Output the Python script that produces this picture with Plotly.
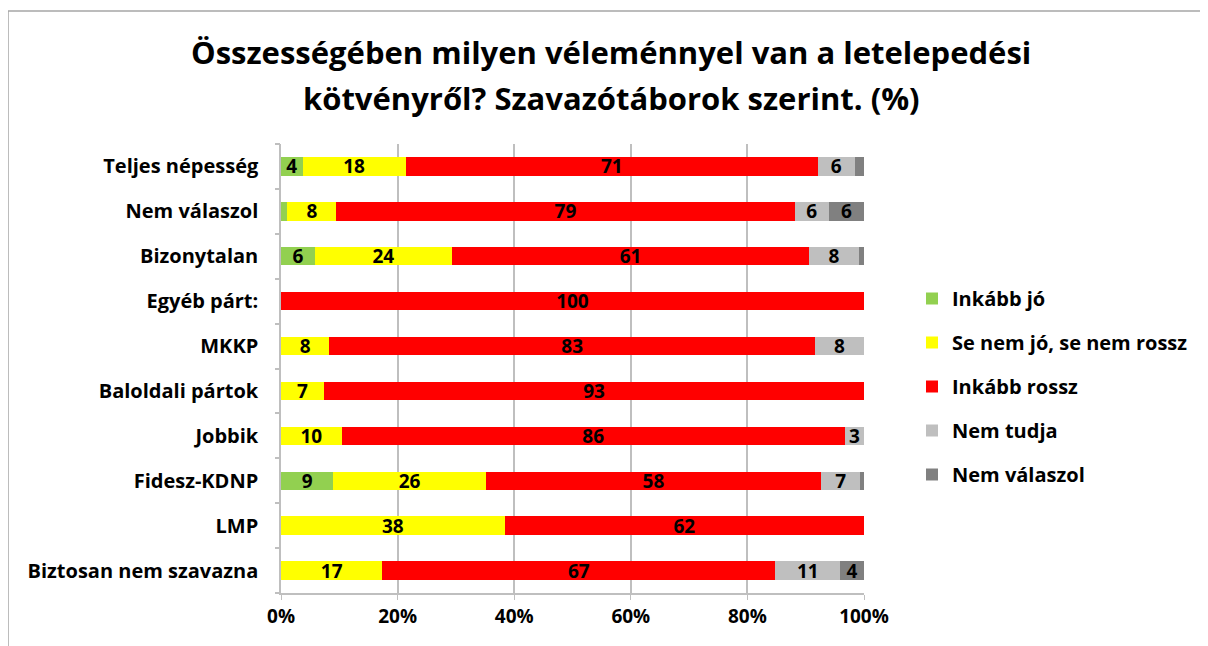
import plotly.graph_objects as go

categories = ["Teljes népesség", "Nem válaszol", "Bizonytalan", "Egyéb párt:", "MKKP",
              "Baloldali pártok", "Jobbik", "Fidesz-KDNP", "LMP", "Biztosan nem szavazna"]

inkabb_jo = [3.7, 1.1, 5.8, 0, 0, 0, 0, 9.0, 0, 0]
se_nem = [17.7, 8.4, 23.5, 0, 8.3, 7.4, 10.4, 26.1, 38.4, 17.4]
inkabb_rossz = [70.7, 78.6, 61.3, 100, 83.3, 92.6, 86.3, 57.6, 61.6, 67.4]
nem_tudja = [6.3, 5.9, 8.5, 0, 8.4, 0, 3.3, 6.6, 0, 11.1]
nem_valaszol = [1.6, 6.0, 0.9, 0, 0, 0, 0, 0.7, 0, 4.1]

series_names = ["Inkább jó", "Se nem jó, se nem rossz", "Inkább rossz", "Nem tudja", "Nem válaszol"]
series_values = [inkabb_jo, se_nem, inkabb_rossz, nem_tudja, nem_valaszol]
colors = ["#92D050", "#FFFF00", "#FF0000", "#BFBFBF", "#808080"]

x_ticks = [0, 20, 40, 60, 80, 100]
x_ticklabels = ["0%", "20%", "40%", "60%", "80%", "100%"]

title_lines = ["Összességében milyen véleménnyel van a letelepedési",
               "kötvényről? Szavazótáborok szerint. (%)"]

FONT = "Open Sans"
# page offset (body margin) of the plot div
OFF = 8
PL, PR, PT, PB = 281, 864, 144, 593  # plot area in page pixels


def px2paper_x(px):
    return (px - PL) / (PR - PL)


def px2paper_y(py):
    return 1 - (py - PT) / (PB - PT)


fig = go.Figure()
for i, (name, vals, col) in enumerate(zip(series_names, series_values, colors)):
    txt = [f"{v:.0f}" if v >= 2.5 else "" for v in vals]
    fig.add_trace(go.Bar(
        y=categories, x=vals, name=name, orientation="h",
        marker=dict(color=col, line=dict(width=0)),
        text=txt, textposition="inside", insidetextanchor="middle",
        textangle=0, constraintext="none",
        textfont=dict(family=FONT, size=19, color="black", weight="bold"),
        width=0.41, legendgroup=f"g{i}", hoverinfo="skip",
    ))

# boundary ticks on the category axis (Excel style)
fig.add_trace(go.Scatter(x=[], y=[], yaxis="y2", showlegend=False, hoverinfo="skip"))

annotations = []
for line, py in zip(title_lines, [52, 98]):
    annotations.append(dict(
        text=line, xref="paper", yref="paper", x=px2paper_x(611), y=px2paper_y(py),
        xanchor="center", yanchor="middle", showarrow=False,
        font=dict(family=FONT, size=31, color="black", weight="bold"),
    ))

fig.update_layout(
    width=1208 - OFF, height=646 - OFF,
    barmode="stack",
    paper_bgcolor="white", plot_bgcolor="white",
    margin=dict(l=PL - OFF, r=1208 - PR, t=PT - OFF, b=646 - PB),
    annotations=annotations,
    uniformtext=dict(minsize=19, mode="show"),
    xaxis=dict(
        range=[0, 100], tickvals=x_ticks, ticktext=x_ticklabels,
        showgrid=True, gridcolor="#BFBFBF", gridwidth=1.5,
        showline=True, linecolor="#BFBFBF", linewidth=1.5,
        ticks="outside", ticklen=5, tickcolor="#BFBFBF",
        tickfont=dict(family=FONT, size=19, color="black", weight="bold"),
        zeroline=False, fixedrange=True,
    ),
    yaxis=dict(
        autorange="reversed", showline=True, linecolor="#BFBFBF", linewidth=1.5,
        ticks="", ticklabelstandoff=17,
        tickfont=dict(family=FONT, size=20, color="black", weight="bold"),
        showgrid=False,
    ),
    yaxis2=dict(
        overlaying="y", anchor="x", side="left", range=[9.5, -0.5],
        tickvals=[i - 0.5 for i in range(11)], showticklabels=False,
        ticks="outside", ticklen=5, tickcolor="#BFBFBF", tickwidth=1.5,
        showgrid=False, zeroline=False, showline=False,
    ),
    legend=dict(
        x=px2paper_x(912), xanchor="left", y=px2paper_y(279), yanchor="top",
        traceorder="grouped", tracegroupgap=15,
        font=dict(family=FONT, size=20, color="black", weight="bold"),
        bgcolor="rgba(0,0,0,0)",
    ),
    shapes=[
        dict(type="line", xref="paper", yref="paper",
             x0=px2paper_x(8), x1=px2paper_x(1210),
             y0=px2paper_y(11), y1=px2paper_y(11),
             line=dict(color="#A6A6A6", width=1.5)),
        dict(type="line", xref="paper", yref="paper",
             x0=px2paper_x(8), x1=px2paper_x(8),
             y0=px2paper_y(11), y1=px2paper_y(650),
             line=dict(color="#A6A6A6", width=1.5)),
    ],
)

fig.write_html("out.html")
